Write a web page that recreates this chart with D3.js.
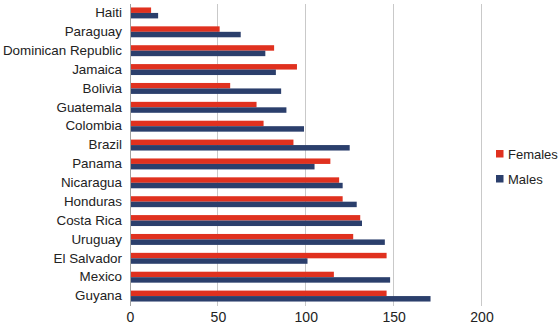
<!DOCTYPE html>
<html><head><meta charset="utf-8">
<script src="https://cdn.jsdelivr.net/npm/d3@7"></script>
<style>body{margin:0;background:#fff;} svg{display:block;}</style>
</head><body>
<svg id="c" width="560" height="326"></svg>
<script>
const categories = ["Haiti","Paraguay","Dominican Republic","Jamaica","Bolivia","Guatemala","Colombia","Brazil","Panama","Nicaragua","Honduras","Costa Rica","Uruguay","El Salvador","Mexico","Guyana"];
const females = [12,51,82,95,57,72,76,93,114,119,121,131,127,146,116,146];
const males   = [16,63,77,83,86,89,99,125,105,121,129,132,145,101,148,171];
const seriesNames = ["Females","Males"];
const seriesColors = ["#e0311f","#2b3f6c"];
const xTicks = [0,50,100,150,200];

const svg = d3.select("#c");
const font = "'Liberation Sans', Arial, sans-serif";
const m = {left:130, right:481.5, top:3.5, bottom:305.5};
const x = d3.scaleLinear().domain([0,200]).range([m.left, m.right]);
const y = d3.scaleBand().domain(categories).range([m.top, m.bottom]).paddingInner(0.42).paddingOuter(0.21);
const sub = d3.scaleBand().domain(seriesNames).range([0, y.bandwidth()]);

// gridlines
svg.append("g").selectAll("line").data(xTicks.slice(1)).join("line")
  .attr("x1", d=>x(d)).attr("x2", d=>x(d)).attr("y1", m.top).attr("y2", m.bottom)
  .attr("stroke", "#c9c9c9").attr("stroke-width", 1).attr("shape-rendering","crispEdges");

const data = [females, males];
data.forEach((vals, si) => {
  svg.append("g").selectAll("rect").data(vals).join("rect")
    .attr("x", x(0)).attr("y", (d,i)=> y(categories[i]) + sub(seriesNames[si]))
    .attr("width", d => x(d) - x(0)).attr("height", sub.bandwidth())
    .attr("fill", seriesColors[si]);
});

// axis line
svg.append("line").attr("x1", x(0)).attr("x2", x(0)).attr("y1", m.top).attr("y2", m.bottom)
  .attr("stroke", "#a0a0a0").attr("shape-rendering","crispEdges");

// x tick labels
const xAxis = d3.axisBottom(x).tickValues(xTicks).tickSize(0).tickPadding(0);
const gx = svg.append("g").attr("transform", `translate(0,${m.bottom})`).call(xAxis);
gx.select(".domain").remove();
gx.selectAll("text").attr("font-family", font).attr("font-size", 14).attr("fill","#222").attr("dy", null).attr("y", 16);

// y labels
const yAxis = d3.axisLeft(y).tickSize(0).tickPadding(0);
const gy = svg.append("g").attr("transform", `translate(122,0)`).call(yAxis);
gy.select(".domain").remove();
gy.selectAll("text").attr("font-family", font).attr("font-size", 13.4).attr("fill","#222");

// legend
const lg = svg.append("g").attr("transform","translate(496,150)");
seriesNames.forEach((n,i)=>{
  const g = lg.append("g").attr("transform", `translate(0,${i*25})`);
  g.append("rect").attr("width",7.5).attr("height",7.5).attr("fill",seriesColors[i]);
  g.append("text").attr("x",12).attr("y",8.5).attr("font-family",font).attr("font-size",13).attr("fill","#222").text(n);
});
</script>
</body></html>
